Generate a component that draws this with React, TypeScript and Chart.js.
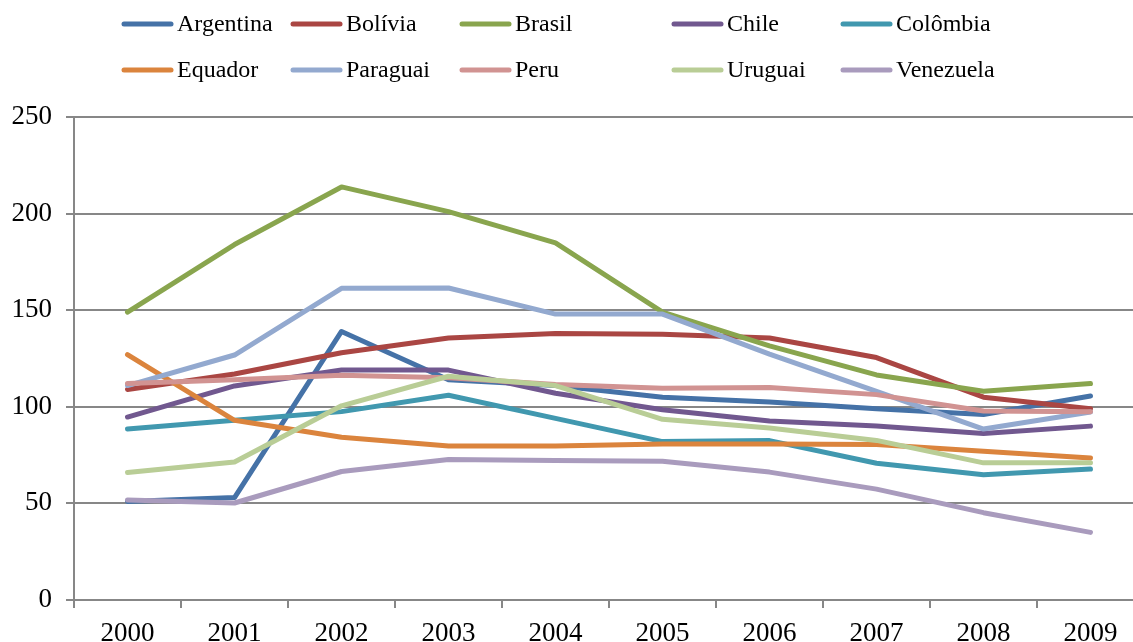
import React, { useEffect, useRef } from "react";
import { Chart, registerables } from "chart.js";

Chart.register(...registerables);

// Years on the horizontal axis
const years = ["2000", "2001", "2002", "2003", "2004", "2005", "2006", "2007", "2008", "2009"];

// Index values per country
const argentina = [51, 53, 139, 114, 111, 105, 102.5, 99, 96, 105.6];
const bolivia = [109, 117, 128, 135.6, 138, 137.5, 135.6, 125.5, 105, 99];
const brasil = [149, 184, 213.8, 201, 184.8, 149, 131.5, 116.5, 108, 112];
const chile = [94.7, 110.8, 119, 119, 107, 98.5, 92.7, 90, 86.2, 90];
const colombia = [88.5, 93, 97.5, 106, 94, 82, 82.5, 70.8, 64.8, 67.8];
const equador = [127, 93, 84.2, 79.7, 79.7, 80.7, 80.7, 80.5, 77, 73.5];
const paraguai = [111, 126.8, 161.3, 161.5, 148, 148, 127.3, 108, 88.5, 97.3];
const peru = [112, 114, 116.3, 115, 111.5, 109.6, 110, 106.3, 97.8, 97.5];
const uruguai = [66, 71.4, 100.5, 115.8, 111, 93.5, 89, 82.6, 71, 71];
const venezuela = [51.8, 50.2, 66.5, 72.7, 72.2, 71.8, 66.2, 57.4, 45.2, 35];

const seriesNames = ["Argentina", "Bolívia", "Brasil", "Chile", "Colômbia", "Equador", "Paraguai", "Peru", "Uruguai", "Venezuela"];
const seriesValues = [argentina, bolivia, brasil, chile, colombia, equador, paraguai, peru, uruguai, venezuela];
const seriesColors = ["#4572A7", "#AA4643", "#89A54E", "#71588F", "#4198AF", "#DB843D", "#93A9CF", "#D19392", "#B9CD96", "#A99BBD"];

const yTicks = [0, 50, 100, 150, 200, 250];

const FONT = "'Liberation Serif', 'Times New Roman', serif";
const GRID = "#878787";

// Legend laid out as a fixed grid of five columns and two rows
const legendGrid = {
  id: "legendGrid",
  afterDraw(chart: Chart) {
    const ctx = chart.ctx;
    const cols = [122, 291, 460, 672, 841];
    const rows = [24, 70];
    ctx.save();
    ctx.font = `24px ${FONT}`;
    ctx.textBaseline = "middle";
    ctx.textAlign = "left";
    chart.data.datasets.forEach((ds: any, i: number) => {
      const x = cols[i % 5];
      const y = rows[Math.floor(i / 5)];
      ctx.strokeStyle = ds.borderColor;
      ctx.lineWidth = 5;
      ctx.lineCap = "round";
      ctx.beginPath();
      ctx.moveTo(x + 2, y);
      ctx.lineTo(x + 49, y);
      ctx.stroke();
      ctx.fillStyle = "#000";
      ctx.fillText(ds.label, x + 55, y + 1);
    });
    ctx.restore();
  },
};

export default function App() {
  const ref = useRef<HTMLCanvasElement | null>(null);

  useEffect(() => {
    if (!ref.current) return;
    const chart = new Chart(ref.current, {
      type: "line",
      data: {
        labels: years,
        datasets: seriesNames.map((name, i) => ({
          label: name,
          data: seriesValues[i],
          borderColor: seriesColors[i],
          backgroundColor: seriesColors[i],
          borderWidth: 5,
          borderCapStyle: "round",
          borderJoinStyle: "round",
          pointRadius: 0,
          tension: 0,
          order: seriesNames.length - i,
        })),
      },
      options: {
        responsive: false,
        animation: false,
        devicePixelRatio: 1,
        layout: { padding: { left: 0, right: 6, top: 117, bottom: 0 } },
        plugins: { legend: { display: false }, tooltip: { enabled: false } },
        scales: {
          x: {
            offset: true,
            grid: { offset: true, drawOnChartArea: false, drawTicks: true, tickLength: 8, color: GRID, lineWidth: 2 },
            border: { display: true, color: GRID, width: 2 },
            ticks: { color: "#000", font: { family: FONT, size: 27 }, padding: 10, maxRotation: 0, autoSkip: false },
            afterFit(scale: any) {
              scale.height = 42;
            },
          },
          y: {
            min: 0,
            max: 250,
            afterBuildTicks(scale: any) {
              scale.ticks = yTicks.map((v) => ({ value: v }));
            },
            grid: { color: GRID, lineWidth: 2, tickLength: 8, drawTicks: true },
            border: { display: true, color: GRID, width: 2 },
            ticks: { color: "#000", font: { family: FONT, size: 27 }, padding: 14 },
            afterFit(scale: any) {
              scale.width = 74;
            },
          },
        },
      },
      plugins: [legendGrid],
    });
    return () => chart.destroy();
  }, []);

  return (
    <div style={{ position: "fixed", left: 0, top: 0, width: 1133, height: 642, overflow: "hidden", background: "#fff" }}>
      <canvas ref={ref} width={1150} height={642} style={{ width: 1150, height: 642, display: "block" }} />
    </div>
  );
}
